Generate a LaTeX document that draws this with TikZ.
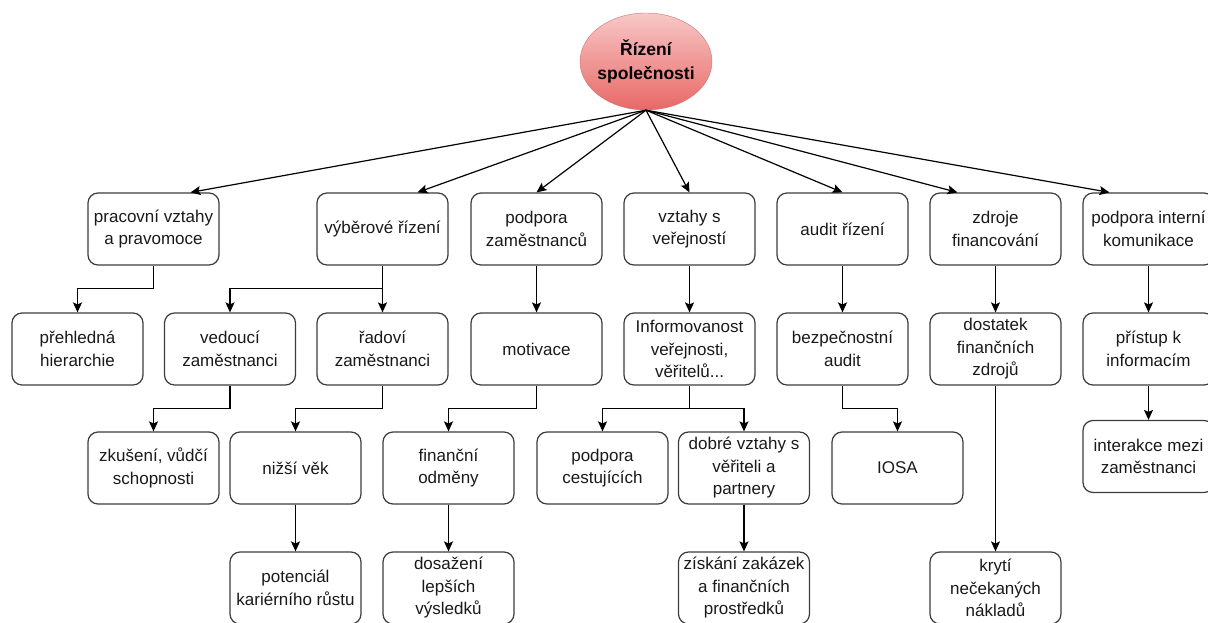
\documentclass[tikz,border=0pt]{standalone}
\usepackage{fontspec}
\setmainfont{Liberation Sans}
\usetikzlibrary{arrows.meta, shapes.geometric}

\definecolor{redtop}{RGB}{247,200,199}
\definecolor{redbot}{RGB}{232,104,102}
\definecolor{redline}{RGB}{196,118,116}
\definecolor{boxline}{RGB}{60,60,60}

\begin{document}
\begin{tikzpicture}[x=1pt, y=-1pt,
    box/.style={draw=boxline, line width=1.2pt, rounded corners=10pt, align=center, minimum width=131pt, minimum height=72pt, inner sep=2pt, font=\fontsize{17}{22.5}\selectfont, text=black!90},
    root/.style={ellipse, draw=redline, top color=redtop, bottom color=redbot, minimum width=132pt, minimum height=97pt, inner xsep=-3pt, inner ysep=0pt, align=center, font=\bfseries\fontsize{17.5}{24}\selectfont},
    flow/.style={-{Stealth[length=10pt, width=9pt, inset=2pt]}, line width=1.2pt}
]
\useasboundingbox (0,0) rectangle (1208,623);

\node[root] (root) at (646,61.5) {Řízení\\společnosti};

% first level
\node[box] (prac) at (153.5,229) {pracovní vztahy\\a pravomoce};
\node[box] (vyber) at (382.5,229) {výběrové řízení};
\node[box] (podp) at (536.5,229) {podpora\\zaměstnanců};
\node[box] (vztahy) at (689.5,229) {vztahy s\\veřejností};
\node[box] (audit) at (842.5,229) {audit řízení};
\node[box] (zdroje) at (995.5,229) {zdroje\\financování};
\node[box] (komun) at (1148.5,229) {podpora interní\\komunikace};

% second level
\node[box] (hier) at (77.5,349) {přehledná\\hierarchie};
\node[box] (vedouci) at (230,349) {vedoucí\\zaměstnanci};
\node[box] (radovi) at (382.5,349) {řadoví\\zaměstnanci};
\node[box] (motiv) at (536.5,349) {motivace};
\node[box] (inform) at (689.5,349) {Informovanost\\veřejnosti,\\věřitelů...};
\node[box] (bezp) at (842.5,349) {bezpečnostní\\audit};
\node[box] (dostatek) at (995.5,349) {dostatek\\finančních\\zdrojů};
\node[box] (pristup) at (1148.5,349) {přístup k\\informacím};

% third level
\node[box] (zkus) at (153.5,468) {zkušení, vůdčí\\schopnosti};
\node[box] (nizsi) at (295.5,468) {nižší věk};
\node[box] (financ) at (448.5,468) {finanční\\odměny};
\node[box] (cestuj) at (602.5,468) {podpora\\cestujících};
\node[box] (dobre) at (744,468) {dobré vztahy s\\věřiteli a\\partnery};
\node[box] (iosa) at (897.5,468) {IOSA};
\node[box] (interakce) at (1148.5,456.5) {interakce mezi\\zaměstnanci};

% fourth level
\node[box] (potenc) at (295.5,588) {potenciál\\kariérního růstu};
\node[box] (dosaz) at (448.5,588) {dosažení\\lepších\\výsledků};
\node[box] (ziskani) at (744,588) {získání zakázek\\a finančních\\prostředků};
\node[box] (kryti) at (995.5,588) {krytí\\nečekaných\\nákladů};

% from the root
\draw[flow] (root.south) -- ([xshift=37pt]prac.north);
\draw[flow] (root.south) -- ([xshift=35pt]vyber.north);
\draw[flow] (root.south) -- (podp.north);
\draw[flow] (root.south) -- (vztahy.north);
\draw[flow] (root.south) -- (audit.north);
\draw[flow] (root.south) -- ([xshift=-38pt]zdroje.north);
\draw[flow] (root.south) -- ([xshift=-39pt]komun.north);

\draw[flow] (prac.south) -- ++(0,23) -| (hier.north);
\draw[flow] (vyber.south) -- ++(0,23) -| (vedouci.north);
\draw[flow] (vyber.south) -- (radovi.north);
\draw[flow] (podp.south) -- (motiv.north);
\draw[flow] (vztahy.south) -- (inform.north);
\draw[flow] (audit.south) -- (bezp.north);
\draw[flow] (zdroje.south) -- (dostatek.north);
\draw[flow] (komun.south) -- (pristup.north);

\draw[flow] (vedouci.south) -- ++(0,23) -| (zkus.north);
\draw[flow] (radovi.south) -- ++(0,23) -| (nizsi.north);
\draw[flow] (motiv.south) -- ++(0,23) -| (financ.north);
\draw[flow] (inform.south) -- ++(0,23) -| (cestuj.north);
\draw[flow] (inform.south) -- ++(0,23) -| (dobre.north);
\draw[flow] (bezp.south) -- ++(0,23) -| (iosa.north);
\draw[flow] (pristup.south) -- (interakce.north);

\draw[flow] (nizsi.south) -- (potenc.north);
\draw[flow] (financ.south) -- (dosaz.north);
\draw[flow] (dobre.south) -- (ziskani.north);
\draw[flow] (dostatek.south) -- (kryti.north);
\end{tikzpicture}
\end{document}
